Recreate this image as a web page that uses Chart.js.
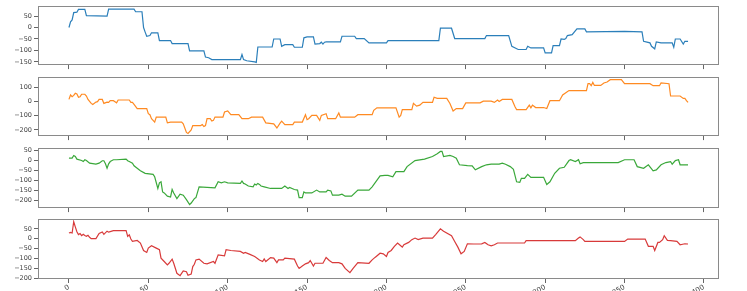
<!DOCTYPE html>
<html>
<head>
<meta charset="utf-8">
<script src="https://cdn.jsdelivr.net/npm/chart.js@4.4.1/dist/chart.umd.min.js"></script>
<style>
html,body{margin:0;padding:0;background:#fff;}
#wrap{position:relative;width:747px;height:291px;overflow:hidden;}
canvas{position:absolute;left:0;}
</style>
</head>
<body>
<div id="wrap">
<canvas id="c1" style="top:0px"></canvas>
<canvas id="c2" style="top:71px"></canvas>
<canvas id="c3" style="top:142px"></canvas>
<canvas id="c4" style="top:213px"></canvas>
</div>
<script>
// x tick labels (shared index axis)
const xTickValues = [0,50,100,150,200,250,300,350,400];

// y tick labels per panel
const yTicks1 = [-150,-100,-50,0,50];
const yTicks2 = [-200,-100,0,100];
const yTicks3 = [-200,-150,-100,-50,0,50];
const yTicks4 = [-200,-150,-100,-50,0,50];

// series values as [index, value]
const series1 = [[0,0],[1,25],[2,33],[3,65],[5,67],[6,79],[10,79],[11,52],[24,50],[25,80],[41,80],[42,69],[46,69],[47,0],[48,-20],[49,-38],[51,-35],[52,-23],[56,-23],[57,-57],[64,-57],[65,-70],[75,-70],[76,-102],[85,-102],[86,-129],[88,-132],[90,-140],[108,-140],[109,-118],[110,-140],[112,-145],[117,-150],[118,-152],[119,-85],[128,-85],[129,-50],[133,-50],[134,-82],[136,-75],[141,-75],[142,-86],[147,-86],[148,-45],[150,-41],[154,-41],[155,-72],[158,-70],[159,-64],[160,-72],[161,-64],[162,-63],[171,-63],[172,-38],[180,-38],[181,-48],[186,-48],[189,-67],[200,-67],[201,-57],[233,-57],[234,-3],[241,-3],[243,-48],[262,-48],[263,-35],[277,-35],[279,-82],[283,-96],[288,-96],[289,-82],[291,-89],[299,-89],[300,-111],[304,-111],[305,-79],[309,-79],[310,-50],[312,-52],[313,-48],[314,-35],[317,-31],[320,-6],[325,-6],[326,-19],[350,-17],[361,-19],[362,-60],[366,-67],[367,-82],[369,-93],[370,-63],[373,-67],[380,-67],[381,-86],[382,-50],[385,-50],[387,-72],[388,-60],[390,-60]];

const series2 = [[0,14],[1,45],[2,33],[3,42],[4,57],[5,52],[6,29],[7,33],[8,50],[10,50],[11,38],[12,14],[14,-14],[15,-21],[17,-5],[18,-2],[19,14],[21,14],[22,-14],[24,-5],[25,-7],[26,5],[28,5],[29,-2],[30,-10],[31,10],[38,10],[39,-7],[40,-7],[41,-21],[43,-50],[49,-50],[50,-86],[51,-93],[52,-121],[53,-133],[54,-145],[55,-110],[61,-110],[62,-150],[64,-145],[71,-145],[72,-157],[74,-217],[75,-224],[77,-200],[78,-169],[83,-169],[84,-162],[85,-176],[86,-169],[87,-121],[89,-121],[90,-138],[91,-133],[92,-110],[97,-110],[98,-74],[100,-67],[102,-93],[107,-93],[109,-121],[113,-121],[115,-110],[122,-110],[124,-150],[129,-157],[131,-186],[133,-152],[134,-138],[136,-162],[141,-162],[142,-145],[147,-145],[149,-93],[150,-128],[151,-121],[153,-98],[156,-98],[158,-133],[159,-98],[162,-86],[163,-121],[168,-121],[170,-81],[171,-110],[180,-110],[182,-93],[191,-93],[192,-62],[194,-45],[206,-45],[208,-110],[209,-98],[210,-57],[216,-57],[217,-14],[219,-33],[221,-26],[223,-7],[229,-7],[230,29],[232,21],[238,21],[240,-14],[242,-67],[244,-50],[248,-50],[250,-10],[259,-10],[261,2],[266,2],[268,-7],[270,10],[271,0],[273,14],[279,14],[281,-38],[282,-57],[288,-57],[290,-26],[291,-45],[292,-26],[294,-43],[299,-43],[301,-50],[303,5],[309,5],[311,45],[315,76],[326,76],[327,124],[328,124],[329,110],[330,133],[331,112],[335,112],[337,129],[339,136],[341,152],[348,152],[350,124],[366,124],[368,110],[372,110],[373,129],[378,124],[379,38],[385,38],[387,21],[388,21],[389,5],[390,-7]];

const series3 = [[0,10],[2,10],[3,23],[4,18],[5,5],[8,-2],[9,-7],[10,2],[11,-2],[13,-15],[17,-20],[19,-15],[21,-3],[22,-3],[23,-18],[24,-40],[25,-18],[26,-7],[28,2],[30,2],[36,5],[37,-3],[38,-7],[40,-15],[41,-28],[45,-52],[48,-65],[53,-70],[54,-82],[56,-140],[57,-112],[58,-107],[59,-157],[60,-162],[62,-178],[64,-182],[65,-145],[66,-162],[68,-190],[70,-168],[72,-173],[74,-195],[76,-220],[77,-212],[79,-190],[80,-185],[82,-132],[92,-137],[94,-107],[96,-112],[98,-107],[100,-112],[108,-115],[109,-103],[110,-115],[111,-118],[113,-128],[116,-132],[117,-118],[118,-123],[119,-115],[120,-120],[121,-128],[123,-132],[127,-140],[134,-140],[136,-128],[138,-140],[139,-135],[142,-145],[144,-148],[145,-185],[147,-185],[148,-157],[149,-162],[153,-162],[156,-148],[158,-157],[162,-157],[163,-148],[165,-152],[166,-173],[170,-173],[172,-168],[174,-178],[178,-178],[182,-148],[189,-148],[191,-132],[196,-78],[199,-75],[201,-75],[204,-82],[206,-57],[211,-57],[213,-32],[218,-2],[224,5],[229,18],[232,32],[234,43],[235,43],[236,18],[240,23],[242,18],[244,10],[246,-23],[251,-27],[254,-28],[256,-48],[260,-32],[263,-23],[266,-20],[271,-20],[273,-15],[275,-20],[278,-32],[280,-45],[282,-107],[284,-110],[285,-90],[287,-90],[289,-70],[291,-85],[299,-85],[301,-120],[303,-107],[306,-65],[309,-40],[312,-35],[315,-2],[316,2],[319,-7],[321,2],[322,-18],[324,-12],[346,-12],[350,2],[356,2],[358,-32],[362,-40],[365,-23],[368,-53],[370,-48],[373,-23],[376,-12],[379,-7],[380,-20],[382,-2],[384,2],[385,-23],[390,-23]];

const series4 = [[0,29],[1,32],[2,29],[3,86],[4,60],[5,35],[6,21],[7,26],[8,15],[9,22],[10,16],[11,12],[12,17],[13,7],[14,0],[17,0],[19,26],[21,34],[22,22],[24,38],[25,33],[28,41],[36,41],[37,12],[38,20],[39,-2],[40,-14],[43,-9],[45,-22],[47,-60],[49,-70],[50,-48],[52,-36],[55,-48],[57,-56],[58,-99],[60,-116],[62,-133],[63,-125],[65,-104],[66,-125],[68,-176],[70,-188],[72,-164],[74,-168],[75,-186],[77,-180],[78,-142],[79,-130],[80,-108],[82,-104],[85,-125],[87,-128],[91,-116],[92,-125],[94,-82],[98,-87],[99,-56],[102,-60],[108,-65],[110,-74],[111,-70],[114,-80],[117,-91],[120,-108],[122,-116],[123,-103],[124,-116],[127,-96],[129,-99],[131,-122],[132,-108],[135,-108],[136,-99],[142,-104],[144,-139],[145,-151],[147,-139],[149,-128],[151,-122],[152,-111],[154,-139],[155,-125],[160,-125],[162,-96],[164,-111],[166,-122],[170,-122],[172,-128],[174,-151],[177,-173],[179,-151],[182,-122],[189,-125],[191,-108],[193,-94],[196,-74],[198,-77],[200,-91],[201,-70],[203,-60],[205,-39],[207,-22],[209,-36],[210,-43],[211,-31],[214,-19],[216,-5],[218,3],[220,-5],[223,3],[229,3],[231,21],[234,50],[236,38],[241,15],[243,-14],[245,-43],[247,-77],[249,-65],[251,-26],[255,-27],[260,-26],[262,-19],[264,-31],[266,-36],[268,-31],[270,-22],[287,-22],[288,-10],[319,-10],[321,3],[322,9],[324,-5],[325,-14],[350,-14],[352,-2],[363,-2],[365,-39],[368,-39],[369,-60],[371,-19],[372,-19],[374,-5],[375,15],[377,-9],[379,-10],[383,-14],[385,-31],[388,-26],[390,-27]];

const colors = ['#2b7fba','#ff8a22','#3aa83a','#d83a3a'];

const framePlugin = {
  id:'frame',
  afterDraw(chart){
    const a = chart.chartArea, ctx = chart.ctx;
    ctx.save();
    ctx.strokeStyle = '#8a8a8a';
    ctx.lineWidth = 1;
    ctx.strokeRect(Math.round(a.left)+0.5, Math.round(a.top)+0.5, Math.round(a.right-a.left)-1, Math.round(a.bottom-a.top)-1);
    ctx.restore();
  }
};

const yFont = {family:'"DejaVu Sans", sans-serif', size:6.5};
const xFont = {family:'"DejaVu Sans", sans-serif', size:7};

function makePanel(id, h, series, color, yMin, yMax, yTicks, showX, xHeight){
  const cv = document.getElementById(id);
  cv.width = 747; cv.height = h;
  cv.style.width = '747px'; cv.style.height = h+'px';
  return new Chart(cv, {
    type:'line',
    data:{datasets:[{
      data: series.map(p=>({x:p[0], y:p[1]})),
      borderColor: color, borderWidth: 1.2, pointRadius: 0, tension: 0, fill:false
    }]},
    options:{
      responsive:false, animation:false,
      layout:{padding:{left:0,right:28,top:6,bottom:0}},
      plugins:{legend:{display:false}, tooltip:{enabled:false}},
      scales:{
        x:{
          type:'linear', min:-19.5, max:409.5,
          border:{display:false},
          grid:{drawOnChartArea:false, drawTicks:true, tickLength:4, color:'#666'},
          afterBuildTicks(s){ s.ticks = xTickValues.map(v=>({value:v})); },
          afterFit(s){ s.height = xHeight; },
          ticks:{display:showX, autoSkip:false, minRotation:30, maxRotation:30, padding:0,
                 font:xFont, color:'#444'}
        },
        y:{
          min:yMin, max:yMax,
          border:{display:false},
          grid:{drawOnChartArea:false, drawTicks:true, tickLength:4, color:'#666'},
          afterBuildTicks(s){ s.ticks = yTicks.map(v=>({value:v})); },
          afterFit(s){ s.width = 38; },
          ticks:{font:yFont, color:'#444', padding:2,
                 callback:(v)=>String(v).replace('-','\u2212')}
        }
      }
    },
    plugins:[framePlugin]
  });
}

makePanel('c1', 71, series1, colors[0], -164, 94, yTicks1, false, 5);
makePanel('c2', 71, series2, colors[1], -243, 171, yTicks2, false, 5);
makePanel('c3', 72, series3, colors[2], -237, 60, yTicks3, false, 5);
makePanel('c4', 78, series4, colors[3], -205, 100, yTicks4, true, 12);
</script>
</body>
</html>
